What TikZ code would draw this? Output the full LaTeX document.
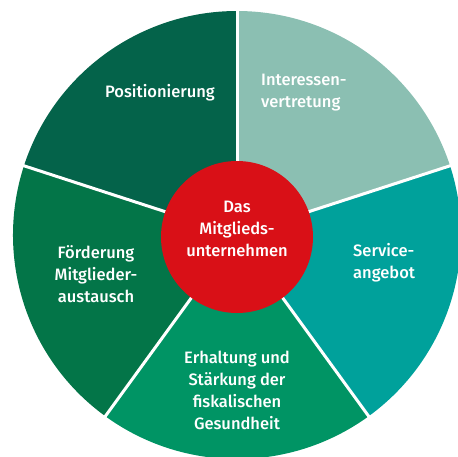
\documentclass[tikz,border=0pt]{standalone}
\usepackage{fontspec}
\setmainfont{Fira Sans Medium}
\definecolor{posgreen}{HTML}{04634A}
\definecolor{intgreen}{HTML}{8BBFB2}
\definecolor{servteal}{HTML}{00A19B}
\definecolor{erhgreen}{HTML}{009464}
\definecolor{foegreen}{HTML}{037548}
\definecolor{corered}{HTML}{D91017}

\begin{document}
\begin{tikzpicture}[x=1pt,y=1pt,
    seglabel/.style={text=white,font=\fontsize{16.5}{22}\selectfont,inner sep=0pt}]
	\clip (0,0) rectangle (458,456);
	\coordinate (mid) at (237,221);
	% sectors
	\fill[posgreen] (mid) -- ++(90:224) arc (90:162:224) -- cycle;
	\fill[intgreen] (mid) -- ++(18:224) arc (18:90:224) -- cycle;
	\fill[servteal] (mid) -- ++(-54:224) arc (-54:18:224) -- cycle;
	\fill[erhgreen] (mid) -- ++(234:224) arc (234:306:224) -- cycle;
	\fill[foegreen] (mid) -- ++(162:224) arc (162:234:224) -- cycle;
	\foreach \a in {18,90,162,234,306}
		\draw[white,line width=3pt] (mid) -- ++(\a:226);
	% centre
	\node[circle,fill=corered,minimum size=152pt,inner sep=0pt] (core) at (237,219) {};
	\node[seglabel,align=center] (kern) at (237,227) {Das\\Mitglieds-\\unternehmen};
	\node[seglabel] (pos) at (160,363) {Positionierung};
	\node[seglabel,align=left,anchor=west] (int) at (261,363) {Interessen-\\vertretung};
	\node[seglabel,align=left,anchor=west] (serv) at (353,193) {Service-\\angebot};
	\node[seglabel,align=center] (foe) at (96,182) {Förderung\\Mitglieder-\\austausch};
	\node[seglabel,align=center] (erh) at (237,66) {Erhaltung und\\Stärkung der\\fiskalischen\\Gesundheit};
\end{tikzpicture}
\end{document}
